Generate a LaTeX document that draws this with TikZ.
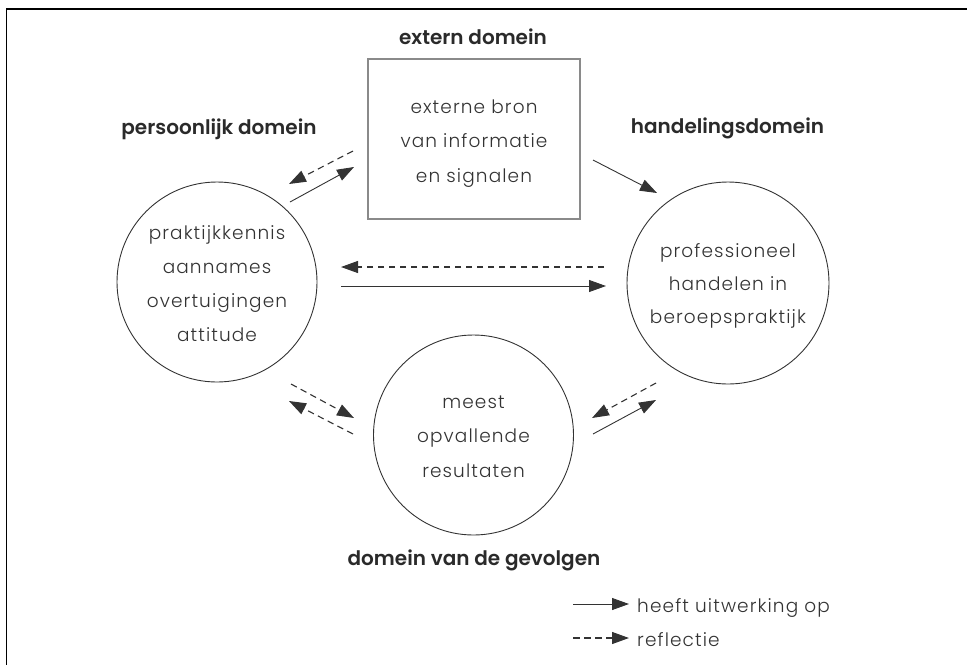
\documentclass[tikz,border=0pt]{standalone}
\usepackage{fontspec}
\setmainfont{Poppins Light}[BoldFont={Poppins SemiBold}]
\newfontfamily\lightsp{Poppins Light}[LetterSpace=6]
\usetikzlibrary{arrows.meta}
\definecolor{ink}{HTML}{333333}
\definecolor{headink}{HTML}{2A2A2A}
\definecolor{boxgray}{HTML}{8A8A8A}
\tikzset{
  x=1pt,y=-1pt,
  ring/.style={circle,draw=ink,line width=0.9pt,inner sep=0pt},
  boxnode/.style={draw=boxgray,line width=1.6pt,minimum width=212pt,minimum height=160pt,inner sep=0pt},
  ctext/.style={anchor=base,align=center,text=ink,inner sep=0pt,font=\lightsp\fontsize{18.5}{#1}\selectfont},
  head/.style={anchor=base,text=headink,font=\bfseries\fontsize{20}{22}\selectfont,inner sep=0pt},
  legtext/.style={anchor=base west,text=ink,font=\lightsp\fontsize{18.5}{20}\selectfont,inner sep=0pt},
  solidarrow/.style={draw=ink,line width=0.9pt,-{Triangle[length=17pt,width=12pt]}},
  dasharrow/.style={draw=ink,line width=1.1pt,dash pattern=on 6.5pt off 4.5pt,-{Triangle[length=17pt,width=12pt]}},
}
\begin{document}
\begin{tikzpicture}
\useasboundingbox (0,0) rectangle (967,665);
\draw[black,line width=1.8pt] (967,9) -- (6.5,9) -- (6.5,665);
% shapes
\node[boxnode] (B) at (474,139) {};
\node[ring,minimum size=200pt] (L) at (217,282) {};
\node[ring,minimum size=202pt] (R) at (728,283) {};
\node[ring,minimum size=200pt] (G) at (473.5,435) {};
% texts (base anchor = baseline of last line)
\node[ctext=34.5] (tB) at (474,182) {externe bron\\van informatie\\en signalen};
\node[ctext=33.7] (tL) at (217,341) {praktijkkennis\\aannames\\overtuigingen\\attitude};
\node[ctext=33] (tR) at (728,323) {professioneel\\handelen in\\beroepspraktijk};
\node[ctext=34.5] (tG) at (473.5,477) {meest\\opvallende\\resultaten};
% headings
\node[head] (hB) at (473,44) {extern domein};
\node[head] (hL) at (219,134.5) {persoonlijk domein};
\node[head] (hR) at (727.5,133.5) {handelingsdomein};
\node[head] (hG) at (474,565) {domein van de gevolgen};
% arrow end points
\coordinate (a1s) at (353,151); \coordinate (a1e) at (289,184);
\coordinate (a2s) at (290,202); \coordinate (a2e) at (354,167);
\coordinate (a3s) at (593,160); \coordinate (a3e) at (657,193);
\coordinate (a4s) at (604,267); \coordinate (a4e) at (341,267);
\coordinate (a5s) at (341,286); \coordinate (a5e) at (606,286);
\coordinate (a6s) at (291,384); \coordinate (a6e) at (354,418);
\coordinate (a7s) at (353,434); \coordinate (a7e) at (289,401);
\coordinate (a8s) at (656,383); \coordinate (a8e) at (592,418);
\coordinate (a9s) at (593,434); \coordinate (a9e) at (656,400);
\draw[dasharrow] (a1s) -- (a1e);
\draw[solidarrow] (a2s) -- (a2e);
\draw[solidarrow] (a3s) -- (a3e);
\draw[dasharrow] (a4s) -- (a4e);
\draw[solidarrow] (a5s) -- (a5e);
\draw[dasharrow] (a6s) -- (a6e);
\draw[dasharrow] (a7s) -- (a7e);
\draw[dasharrow] (a8s) -- (a8e);
\draw[solidarrow] (a9s) -- (a9e);
% legend
\coordinate (l1s) at (573,604); \coordinate (l1e) at (629,604);
\coordinate (l2s) at (573,638); \coordinate (l2e) at (629,638);
\draw[solidarrow] (l1s) -- (l1e);
\draw[dasharrow] (l2s) -- (l2e);
\node[legtext] (t1) at (637,612) {heeft uitwerking op};
\node[legtext] (t2) at (637,646) {reflectie};
\end{tikzpicture}
\end{document}
